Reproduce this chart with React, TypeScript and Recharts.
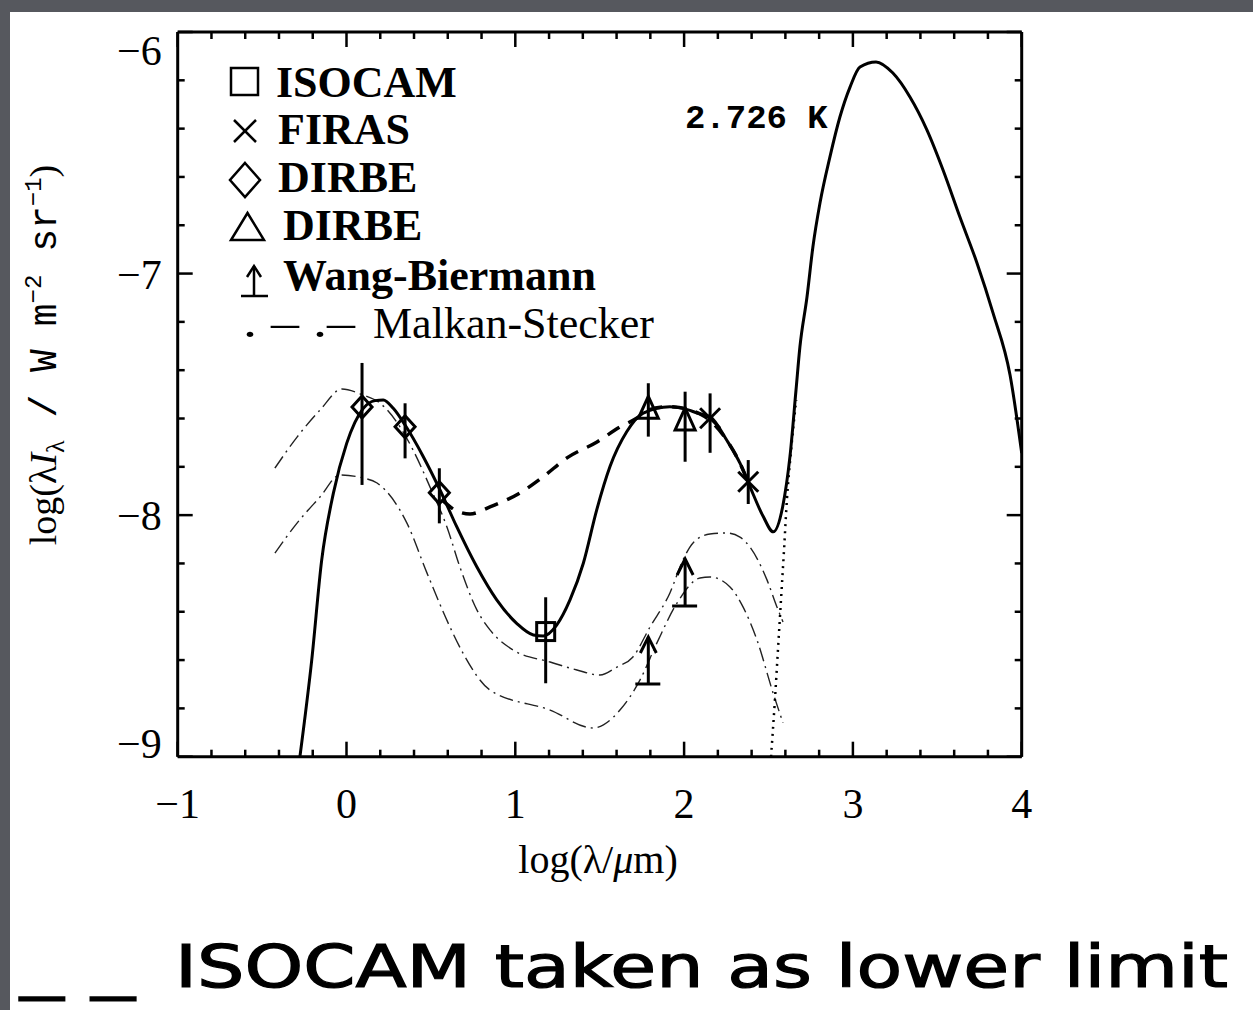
import {
  ComposedChart,
  Line,
  Scatter,
  XAxis,
  YAxis,
  ErrorBar,
  Legend,
  ReferenceDot,
} from "recharts";

const SERIF = "'Liberation Serif', 'DejaVu Serif', serif";
const MONO = "'Liberation Mono', 'DejaVu Sans Mono', monospace";

const X_TICKS = [
  -1, -0.8, -0.6, -0.4, -0.2, 0, 0.2, 0.4, 0.6, 0.8, 1, 1.2, 1.4, 1.6, 1.8, 2,
  2.2, 2.4, 2.6, 2.8, 3, 3.2, 3.4, 3.6, 3.8, 4,
];
const Y_TICKS = [
  -9, -8.8, -8.6, -8.4, -8.2, -8, -7.8, -7.6, -7.4, -7.2, -7, -6.8, -6.6, -6.4,
  -6.2, -6,
];

// model: dust emission + 2.726 K blackbody
const MODEL: [number, number][] = [
  [-0.276, -9.0], [-0.206, -8.6], [-0.147, -8.186], [-0.078, -7.91],
  [0.001, -7.703], [0.0995, -7.558], [0.169, -7.526], [0.218, -7.523],
  [0.277, -7.558], [0.347, -7.627], [0.455, -7.758], [0.554, -7.896],
  [0.653, -8.048], [0.771, -8.213], [0.89, -8.351], [1.008, -8.448],
  [1.107, -8.496], [1.166, -8.5], [1.245, -8.455], [1.324, -8.351],
  [1.403, -8.199], [1.482, -7.979], [1.561, -7.799], [1.66, -7.655],
  [1.758, -7.578], [1.916, -7.551], [1.995, -7.558], [2.094, -7.581],
  [2.153, -7.592], [2.252, -7.689], [2.331, -7.785], [2.39, -7.882],
  [2.469, -8.006], [2.528, -8.069], [2.584, -7.965], [2.627, -7.758],
  [2.663, -7.482], [2.686, -7.304], [2.728, -7.097], [2.763, -6.89],
  [2.805, -6.708], [2.864, -6.517], [2.923, -6.352], [2.983, -6.228],
  [3.042, -6.145], [3.137, -6.124], [3.237, -6.17], [3.338, -6.269],
  [3.439, -6.406], [3.534, -6.571], [3.634, -6.766], [3.735, -6.956],
  [3.83, -7.163], [3.931, -7.42], [4.0, -7.743],
];

// CMB tail below the dust component
const CMB_TAIL: [number, number][] = [
  [2.515, -9.0], [2.538, -8.765], [2.556, -8.558], [2.574, -8.351],
  [2.592, -8.144], [2.609, -7.937], [2.634, -7.73], [2.664, -7.523],
];

// ISOCAM taken as lower limit
const LOWER_LIMIT_MODEL: [number, number][] = [
  [0.566, -7.937], [0.643, -7.979], [0.732, -7.995], [0.85, -7.966],
  [1.028, -7.908], [1.164, -7.842], [1.306, -7.763], [1.484, -7.697],
  [1.62, -7.635], [1.721, -7.598], [1.786, -7.565], [1.916, -7.551],
  [2.094, -7.581], [2.252, -7.689], [2.331, -7.785], [2.39, -7.882],
];

const MALKAN_HIGH: [number, number][] = [
  [-0.424, -7.805], [-0.293, -7.677], [-0.157, -7.565], [-0.027, -7.478],
  [0.098, -7.503], [0.198, -7.536], [0.317, -7.635], [0.394, -7.73],
  [0.495, -7.884], [0.595, -8.049], [0.672, -8.215], [0.773, -8.393],
  [0.85, -8.475], [0.986, -8.558], [1.206, -8.608], [1.365, -8.641],
  [1.502, -8.662], [1.602, -8.629], [1.697, -8.587], [1.798, -8.463],
  [1.916, -8.322], [1.993, -8.186], [2.053, -8.115], [2.153, -8.078],
  [2.254, -8.074], [2.331, -8.091], [2.39, -8.132], [2.491, -8.268],
  [2.55, -8.38], [2.586, -8.442],
];

const MALKAN_LOW: [number, number][] = [
  [-0.424, -8.157], [-0.293, -8.033], [-0.157, -7.925], [-0.039, -7.834],
  [0.098, -7.846], [0.181, -7.867], [0.358, -8.033], [0.477, -8.24],
  [0.613, -8.463], [0.69, -8.571], [0.85, -8.724], [1.206, -8.807],
  [1.46, -8.881], [1.62, -8.807], [1.739, -8.682], [1.839, -8.529],
  [1.958, -8.364], [2.094, -8.26], [2.153, -8.256], [2.272, -8.297],
  [2.349, -8.38], [2.432, -8.517], [2.527, -8.736], [2.586, -8.86],
];

const ISOCAM_X = [1.18];
const ISOCAM_Y = [-8.482];
const ISOCAM_ERR: [number, number][] = [[0.214, 0.142]];

const DIRBE_D_X = [0.092, 0.347, 0.55];
const DIRBE_D_Y = [-7.552, -7.634, -7.907];
const DIRBE_D_ERR: [number, number][] = [[0.323, 0.182], [0.131, 0.097], [0.127, 0.101]];

const DIRBE_T_X = [1.788, 2.006];
const DIRBE_T_Y = [-7.558, -7.606];
const DIRBE_T_ERR: [number, number][] = [[0.117, 0.104], [0.173, 0.117]];

const FIRAS_X = [2.154, 2.38];
const FIRAS_Y = [-7.599, -7.862];
const FIRAS_ERR: [number, number][] = [[0.143, 0.103], [0.092, 0.09]];

const WANG_X = [1.788, 2.006];
const WANG_Y = [-8.699, -8.376];

const toPts = (arr: [number, number][]) => arr.map(([x, y]) => ({ x, y }));
const withErr = (xs: number[], ys: number[], errs?: [number, number][]) =>
  xs.map((x, i) => ({ x, y: ys[i], err: errs ? errs[i] : [0, 0] }));

const fmt = (v: number) => (v < 0 ? `\u2212${Math.abs(v)}` : `${v}`);
const isMajor = (v: number) => Math.abs(v - Math.round(v)) < 1e-6;
const tickLen = (v: number) => (isMajor(v) ? 15 : 7);

const BottomTick = ({ x, y, payload }: any) => (
  <g>
    <line x1={x} x2={x} y1={y} y2={y - tickLen(payload.value)} stroke="#000" strokeWidth={2.5} />
    {isMajor(payload.value) && (
      <text x={x} y={y + 61} textAnchor="middle" fontFamily={SERIF} fontSize={42} fill="#000">
        {fmt(payload.value)}
      </text>
    )}
  </g>
);

const TopTick = ({ x, y, payload }: any) => (
  <line x1={x} x2={x} y1={y} y2={y + tickLen(payload.value)} stroke="#000" strokeWidth={2.5} />
);

const LeftTick = ({ x, y, payload }: any) => {
  const v = payload.value;
  const shift = v === -6 ? 18 : v === -9 ? -14 : 0;
  return (
    <g>
      <line x1={x} x2={x + tickLen(v)} y1={y} y2={y} stroke="#000" strokeWidth={2.5} />
      {isMajor(v) && (
        <text x={x - 16} y={y + 15 + shift} textAnchor="end" fontFamily={SERIF} fontSize={42} fill="#000">
          {fmt(v)}
        </text>
      )}
    </g>
  );
};

const RightTick = ({ x, y, payload }: any) => (
  <line x1={x} x2={x - tickLen(payload.value)} y1={y} y2={y} stroke="#000" strokeWidth={2.5} />
);

const Square = ({ cx, cy }: any) => (
  <rect x={cx - 9} y={cy - 9} width={18} height={18} fill="none" stroke="#000" strokeWidth={3} />
);
const Diamond = ({ cx, cy }: any) => (
  <polygon
    points={`${cx},${cy - 11} ${cx + 10},${cy} ${cx},${cy + 11} ${cx - 10},${cy}`}
    fill="none"
    stroke="#000"
    strokeWidth={3}
  />
);
const Triangle = ({ cx, cy }: any) => (
  <polygon
    points={`${cx - 10},${cy + 10} ${cx + 10},${cy + 10} ${cx},${cy - 12}`}
    fill="none"
    stroke="#000"
    strokeWidth={3}
  />
);
const Cross = ({ cx, cy }: any) => (
  <g stroke="#000" strokeWidth={3}>
    <line x1={cx - 10} y1={cy - 10} x2={cx + 10} y2={cy + 10} />
    <line x1={cx + 10} y1={cy - 10} x2={cx - 10} y2={cy + 10} />
  </g>
);
const UpArrow = ({ cx, cy }: any) => (
  <g stroke="#000" strokeWidth={3} fill="none">
    <line x1={cx - 13} x2={cx + 12} y1={cy} y2={cy} />
    <line x1={cx} x2={cx} y1={cy} y2={cy - 47} />
    <polyline points={`${cx - 8},${cy - 31} ${cx},${cy - 47} ${cx + 8},${cy - 31}`} />
  </g>
);

// legend box drawn at (215, 50) on the page
const LegendBox = () => {
  const ox = 215;
  const oy = 50;
  const t = { fontFamily: SERIF, fontSize: 44, fontWeight: 700, fill: "#000" } as const;
  return (
    <svg width={520} height={310} style={{ overflow: "visible" }}>
      <g transform={`translate(${-ox},${-oy})`} stroke="#000" strokeWidth={2.5} fill="none">
        <rect x={231} y={68} width={27} height={27} />
        <line x1={234} y1={120} x2={256} y2={142} />
        <line x1={256} y1={120} x2={234} y2={142} />
        <polygon points="245,163 260,180 245,197 230,180" />
        <polygon points="231,240 264,240 247.5,213" />
        <line x1={241} x2={268} y1={296} y2={296} />
        <line x1={254} x2={254} y1={296} y2={266} />
        <polyline points="247,277 254,266 261,277" />
      </g>
      <g transform={`translate(${-ox},${-oy})`}>
        <text x={276} y={97} {...t}>ISOCAM</text>
        <text x={278} y={144} {...t}>FIRAS</text>
        <text x={278} y={192} {...t}>DIRBE</text>
        <text x={283} y={240} {...t}>DIRBE</text>
        <text x={283} y={290} {...t}>Wang-Biermann</text>
        <text x={243} y={337} fontFamily={SERIF} fontSize={44} textLength={112} lengthAdjust="spacingAndGlyphs">
          . – .–
        </text>
        <text x={373} y={338} {...t} fontWeight={400}>Malkan-Stecker</text>
      </g>
    </svg>
  );
};

const YTitle = () => (
  <text
    x={56}
    y={355}
    transform="rotate(-90, 56, 355)"
    textAnchor="middle"
    fontFamily={SERIF}
    fontSize={38}
    fill="#000"
  >
    <tspan>log(λ</tspan>
    <tspan fontStyle="italic">I</tspan>
    <tspan fontSize={26} dy={8}>λ</tspan>
    <tspan dy={-8} fontFamily={MONO}> / W m</tspan>
    <tspan fontFamily={MONO} fontSize={24} dy={-15}>−2</tspan>
    <tspan fontFamily={MONO} dy={15}> sr</tspan>
    <tspan fontFamily={MONO} fontSize={24} dy={-15}>−1</tspan>
    <tspan dy={15}>)</tspan>
  </text>
);

const XTitle = () => (
  <text x={598} y={873} textAnchor="middle" fontFamily={SERIF} fontSize={40} fill="#000">
    log(λ/<tspan fontStyle="italic">μ</tspan>m)
  </text>
);

const CmbLabel = ({ viewBox }: any) => (
  <text x={viewBox.x} y={viewBox.y} fontFamily={MONO} fontSize={34} fontWeight={700} fill="#000">
    2.726 K
  </text>
);

export default function App() {
  return (
    <div style={{ position: "absolute", left: 0, top: 0, width: 1253, height: 1010, background: "#56585e" }}>
      <div style={{ position: "absolute", left: 10, top: 12, right: 0, bottom: 0, background: "#fff" }} />
      <div style={{ position: "absolute", left: 0, top: 0 }}>
        <ComposedChart
          width={1253}
          height={1010}
          margin={{ top: 31, right: 230.3, bottom: 252.3, left: 176.7 }}
        >
          <XAxis
            xAxisId={0}
            dataKey="x"
            type="number"
            domain={[-1, 4]}
            allowDataOverflow
            ticks={X_TICKS}
            interval={0}
            height={1}
            tickSize={0}
            tickMargin={0}
            tickLine={false}
            axisLine={{ stroke: "#000", strokeWidth: 3 }}
            tick={BottomTick}
            label={XTitle}
          />
          <XAxis
            xAxisId="top"
            orientation="top"
            dataKey="x"
            type="number"
            domain={[-1, 4]}
            allowDataOverflow
            ticks={X_TICKS}
            interval={0}
            height={1}
            tickSize={0}
            tickMargin={0}
            tickLine={false}
            axisLine={{ stroke: "#000", strokeWidth: 3 }}
            tick={TopTick}
          />
          <YAxis
            yAxisId={0}
            type="number"
            domain={[-9, -6]}
            allowDataOverflow
            ticks={Y_TICKS}
            interval={0}
            width={1}
            tickSize={0}
            tickMargin={0}
            tickLine={false}
            axisLine={{ stroke: "#000", strokeWidth: 3 }}
            tick={LeftTick}
            label={YTitle}
          />
          <YAxis
            yAxisId="right"
            orientation="right"
            type="number"
            domain={[-9, -6]}
            allowDataOverflow
            ticks={Y_TICKS}
            interval={0}
            width={1}
            tickSize={0}
            tickMargin={0}
            tickLine={false}
            axisLine={{ stroke: "#000", strokeWidth: 3 }}
            tick={RightTick}
          />
          <Legend
            layout="vertical"
            align="center"
            verticalAlign="middle"
            wrapperStyle={{ top: 50, left: 215, width: 520, height: 310 }}
            content={LegendBox}
          />

          <Line data={toPts(MALKAN_HIGH)} dataKey="y" type="monotoneX" stroke="#222" strokeWidth={1.4}
            strokeDasharray="14 5 2 5" dot={false} activeDot={false} isAnimationActive={false} />
          <Line data={toPts(MALKAN_LOW)} dataKey="y" type="monotoneX" stroke="#222" strokeWidth={1.4}
            strokeDasharray="14 5 2 5" dot={false} activeDot={false} isAnimationActive={false} />
          <Line data={toPts(CMB_TAIL)} dataKey="y" type="monotoneX" stroke="#000" strokeWidth={2.5}
            strokeDasharray="2 5" dot={false} activeDot={false} isAnimationActive={false} />
          <Line data={toPts(LOWER_LIMIT_MODEL)} dataKey="y" type="monotoneX" stroke="#000" strokeWidth={3.5}
            strokeDasharray="14 10" dot={false} activeDot={false} isAnimationActive={false} />
          <Line data={toPts(MODEL)} dataKey="y" type="monotoneX" stroke="#000" strokeWidth={3}
            dot={false} activeDot={false} isAnimationActive={false} />

          <Scatter data={withErr(DIRBE_D_X, DIRBE_D_Y, DIRBE_D_ERR)} dataKey="y" shape={Diamond} isAnimationActive={false}>
            <ErrorBar dataKey="err" direction="y" width={0} stroke="#000" strokeWidth={3} isAnimationActive={false} />
          </Scatter>
          <Scatter data={withErr(ISOCAM_X, ISOCAM_Y, ISOCAM_ERR)} dataKey="y" shape={Square} isAnimationActive={false}>
            <ErrorBar dataKey="err" direction="y" width={0} stroke="#000" strokeWidth={3} isAnimationActive={false} />
          </Scatter>
          <Scatter data={withErr(DIRBE_T_X, DIRBE_T_Y, DIRBE_T_ERR)} dataKey="y" shape={Triangle} isAnimationActive={false}>
            <ErrorBar dataKey="err" direction="y" width={0} stroke="#000" strokeWidth={3} isAnimationActive={false} />
          </Scatter>
          <Scatter data={withErr(FIRAS_X, FIRAS_Y, FIRAS_ERR)} dataKey="y" shape={Cross} isAnimationActive={false}>
            <ErrorBar dataKey="err" direction="y" width={0} stroke="#000" strokeWidth={3} isAnimationActive={false} />
          </Scatter>
          <Scatter data={withErr(WANG_X, WANG_Y)} dataKey="y" shape={UpArrow} isAnimationActive={false} />

          <ReferenceDot x={2.005} y={-6.397} r={0} fill="none" stroke="none" label={CmbLabel} />
        </ComposedChart>
      </div>
      <svg width={1253} height={110} style={{ position: "absolute", left: 0, top: 900 }}>
        <text x={20} y={87} fontFamily="'DejaVu Sans', sans-serif" fontSize={58}
          textLength={115} lengthAdjust="spacingAndGlyphs" fill="#000" stroke="#000" strokeWidth={1.2}>
          _ _
        </text>
        <text x={175} y={87} fontFamily="'DejaVu Sans', sans-serif" fontSize={58}
          textLength={1053} lengthAdjust="spacingAndGlyphs" fill="#000" stroke="#000" strokeWidth={1.2}>
          ISOCAM taken as lower limit
        </text>
      </svg>
    </div>
  );
}
